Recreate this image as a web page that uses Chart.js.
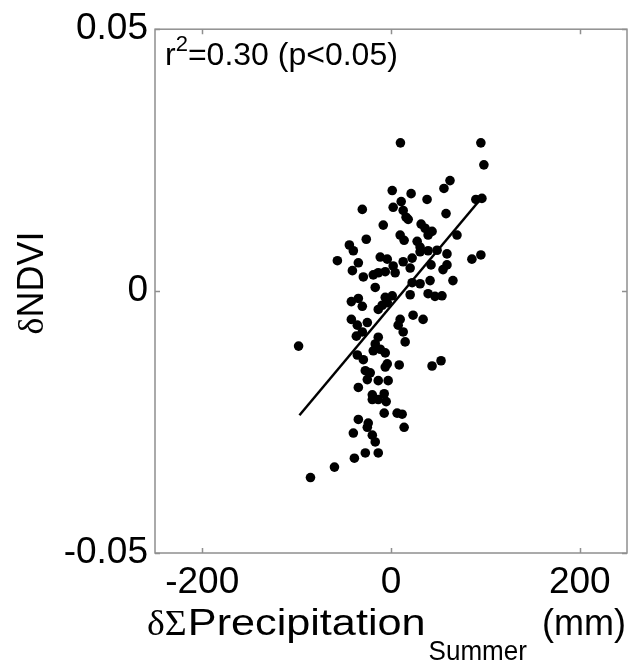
<!DOCTYPE html>
<html>
<head>
<meta charset="utf-8">
<script src="https://cdn.jsdelivr.net/npm/chart.js@4.4.1/dist/chart.umd.min.js"></script>
<style>
html,body{margin:0;padding:0;background:#fff;}
canvas{display:block;}
</style>
</head>
<body>
<canvas id="c" width="634" height="666"></canvas>
<script>
// ---- data ----
const precipX = [10, 95.2, 98.4, 62.5, 56.1, 1.3, 21.3, 38.2, 10.8, 89.9, 96.3, -30.4, 2.3, 12.9, 58.3, 18.2, 16.0, -8.2, 31.9, 36.1,
  43.5, 39.3, -26.2, 9.7, 13.9, 69.9, -44.1, 27.7, 30.8, -39.9, -56.8, -34.6, -11.4, -4.0, 12.9, 22.4, 30.8, 39.3, 48.8, 59.3,
  85.7, 95.2, -40.9, -29.3, -18.8, -13.5, -6.1, 2.3, 4.4, 20.3, 42.4, 59.3, 55.1, -16.7, 22.4, 30.8, 41.4, 65.6, 20.3, 39.3,
  46.6, 54.0, -42.0, -30.4, -34.6, -6.1, 1.3, -9.3, -13.5, -4.0, 34.0, 23.4, 9.7, 7.6, 12.9, 15.0, -42.0, -35.7, -25.1, -36.7,
  -30.4, -13.5, -16.7, -11.4, -18.8, -6.1, -97.9, -35.7, -29.3, -4.0, 8.7, 43.5, 53.0, -27.2, -22.0, -6.1, -25.1, -13.5, -3.0, -34.6,
  -19.8, -19.8, -13.5, -7.2, -5.1, -7.2, 6.5, 11.8, 13.9, -34.6, -24.1, -25.1, -39.9, -19.8, -16.7, -27.2, -13.5, -38.8, -59.9, -85.3];
const ndviY = [0.0283, 0.0283, 0.0241, 0.0211, 0.0196, 0.0192, 0.0186, 0.0175, 0.0171, 0.0175, 0.0177, 0.0156, 0.0160, 0.0154, 0.0148, 0.0137, 0.0141, 0.0126, 0.0128, 0.0120,
  0.0114, 0.0107, 0.0099, 0.0107, 0.0097, 0.0107, 0.0088, 0.0095, 0.0084, 0.0077, 0.0058, 0.0054, 0.0065, 0.0061, 0.0056, 0.0063, 0.0075, 0.0077, 0.0078, 0.0071,
  0.0061, 0.0069, 0.0039, 0.0027, 0.0031, 0.0035, 0.0037, 0.0048, 0.0035, 0.0044, 0.0050, 0.0050, 0.0041, 0.0007, 0.0016, 0.0014, 0.0020, 0.0020, -0.0007, -0.0005,
  -0.0010, -0.0009, -0.0020, -0.0029, -0.0014, -0.0012, -0.0009, -0.0027, -0.0035, -0.0022, -0.0054, -0.0046, -0.0054, -0.0065, -0.0078, -0.0097, -0.0054, -0.0065, -0.0060, -0.0086,
  -0.0078, -0.0088, -0.0101, -0.0111, -0.0114, -0.0118, -0.0105, -0.0122, -0.0131, -0.0139, -0.0141, -0.0143, -0.0133, -0.0152, -0.0156, -0.0145, -0.0169, -0.0171, -0.0171, -0.0184,
  -0.0198, -0.0207, -0.0207, -0.0196, -0.0211, -0.0233, -0.0233, -0.0235, -0.0260, -0.0245, -0.0252, -0.0260, -0.0271, -0.0275, -0.0288, -0.0309, -0.0309, -0.0319, -0.0336, -0.0356];
const fitX = [-97, 97];
const fitY = [-0.0237, 0.0180];
const xTicks = [-200, 0, 200];
const xTickLabels = ['-200', '0', '200'];
const yTicks = [-0.05, 0, 0.05];
const yTickLabels = ['-0.05', '0', '0.05'];
const statText = ['r', '2', '=0.30 (p<0.05)'];
const xTitleParts = ['δΣ', 'Precipitation', 'Summer', '(mm)'];
const yTitleParts = ['δ', 'NDVI'];

const SANS = '"Liberation Sans", Arial, Helvetica, sans-serif';
const SERIF = '"Liberation Serif", "Times New Roman", serif';

function drawStretched(ctx, text, x, y, sx) {
  ctx.save();
  ctx.translate(x, y);
  ctx.scale(sx, 1);
  ctx.fillText(text, 0, 0);
  ctx.restore();
  return ctx.measureText(text).width * sx;
}

const decor = {
  id: 'decor',
  beforeDraw(chart) {
    const ctx = chart.ctx;
    ctx.save();
    ctx.fillStyle = '#fff';
    ctx.fillRect(0, 0, chart.width, chart.height);
    ctx.restore();
  },
  afterDraw(chart) {
    const ctx = chart.ctx;
    const a = chart.chartArea;
    const xs = chart.scales.x, ys = chart.scales.y;
    ctx.save();
    // box
    ctx.strokeStyle = '#8f8f8f';
    ctx.lineWidth = 1.5;
    ctx.strokeRect(a.left, a.top, a.right - a.left, a.bottom - a.top);
    // inward ticks
    ctx.beginPath();
    const tl = 5;
    xTicks.forEach(v => {
      const p = Math.round(xs.getPixelForValue(v)) + 0.5;
      ctx.moveTo(p, a.bottom); ctx.lineTo(p, a.bottom - tl);
      ctx.moveTo(p, a.top); ctx.lineTo(p, a.top + tl);
    });
    yTicks.forEach(v => {
      const p = Math.round(ys.getPixelForValue(v)) + 0.5;
      ctx.moveTo(a.left, p); ctx.lineTo(a.left + tl, p);
      ctx.moveTo(a.right, p); ctx.lineTo(a.right - tl, p);
    });
    ctx.stroke();

    ctx.fillStyle = '#000';
    ctx.textBaseline = 'alphabetic';
    ctx.textAlign = 'left';
    // stat text
    let x = a.left + 10;
    const by = 65;
    ctx.font = '32px ' + SANS;
    ctx.fillText(statText[0], x, by);
    x += ctx.measureText(statText[0]).width;
    ctx.font = '22px ' + SANS;
    ctx.fillText(statText[1], x, by - 14);
    x += ctx.measureText(statText[1]).width;
    ctx.font = '32px ' + SANS;
    ctx.fillText(statText[2], x, by);

    // x title
    let tx = 147;
    const tb = 635;
    ctx.font = '36px ' + SERIF;
    tx += drawStretched(ctx, xTitleParts[0], tx, tb, 1.05) + 1;
    ctx.font = '36px ' + SANS;
    tx += drawStretched(ctx, xTitleParts[1], tx, tb, 1.2) + 3;
    ctx.font = '28px ' + SANS;
    tx += drawStretched(ctx, xTitleParts[2], tx, tb + 25, 0.93) + 15;
    ctx.font = '36px ' + SANS;
    drawStretched(ctx, xTitleParts[3], tx, tb, 1.0);

    // y title
    ctx.save();
    ctx.translate(43, 283);
    ctx.rotate(-Math.PI / 2);
    ctx.font = '36px ' + SERIF;
    const w0 = ctx.measureText(yTitleParts[0]).width;
    ctx.font = '36px ' + SANS;
    const w1 = ctx.measureText(yTitleParts[1]).width;
    let yx = -(w0 + w1) / 2;
    ctx.font = '36px ' + SERIF;
    ctx.fillText(yTitleParts[0], yx, 0);
    ctx.font = '36px ' + SANS;
    ctx.fillText(yTitleParts[1], yx + w0, 0);
    ctx.restore();

    ctx.restore();
  }
};

const points = precipX.map((v, i) => ({ x: v, y: ndviY[i] }));
const fitLine = fitX.map((v, i) => ({ x: v, y: fitY[i] }));

new Chart(document.getElementById('c'), {
  type: 'scatter',
  data: {
    datasets: [
      { data: points, pointRadius: 4.8, pointBackgroundColor: '#000', pointBorderWidth: 0, pointBorderColor: '#000' },
      { data: fitLine, showLine: true, pointRadius: 0, borderColor: '#000', borderWidth: 2.5, fill: false }
    ]
  },
  options: {
    responsive: false,
    animation: false,
    devicePixelRatio: 1,
    layout: { padding: { top: 24, right: 7, left: 0, bottom: 0 } },
    plugins: { legend: { display: false }, tooltip: { enabled: false } },
    scales: {
      x: {
        type: 'linear', min: -250, max: 250,
        afterBuildTicks: s => { s.ticks = xTicks.map(v => ({ value: v })); },
        afterFit: s => { s.height = 113; },
        grid: { display: false, drawTicks: false },
        border: { display: false },
        ticks: { color: '#000', font: { family: SANS, size: 37 }, padding: 8, maxRotation: 0, autoSkip: false,
          callback: (v, i) => xTickLabels[i] }
      },
      y: {
        type: 'linear', min: -0.05, max: 0.05,
        afterBuildTicks: s => { s.ticks = yTicks.map(v => ({ value: v })); },
        afterFit: s => { s.width = 155; },
        grid: { display: false, drawTicks: false },
        border: { display: false },
        ticks: { color: '#000', font: { family: SANS, size: 37 }, padding: 7, autoSkip: false,
          callback: (v, i) => yTickLabels[i] }
      }
    }
  },
  plugins: [decor]
});
</script>
</body>
</html>
